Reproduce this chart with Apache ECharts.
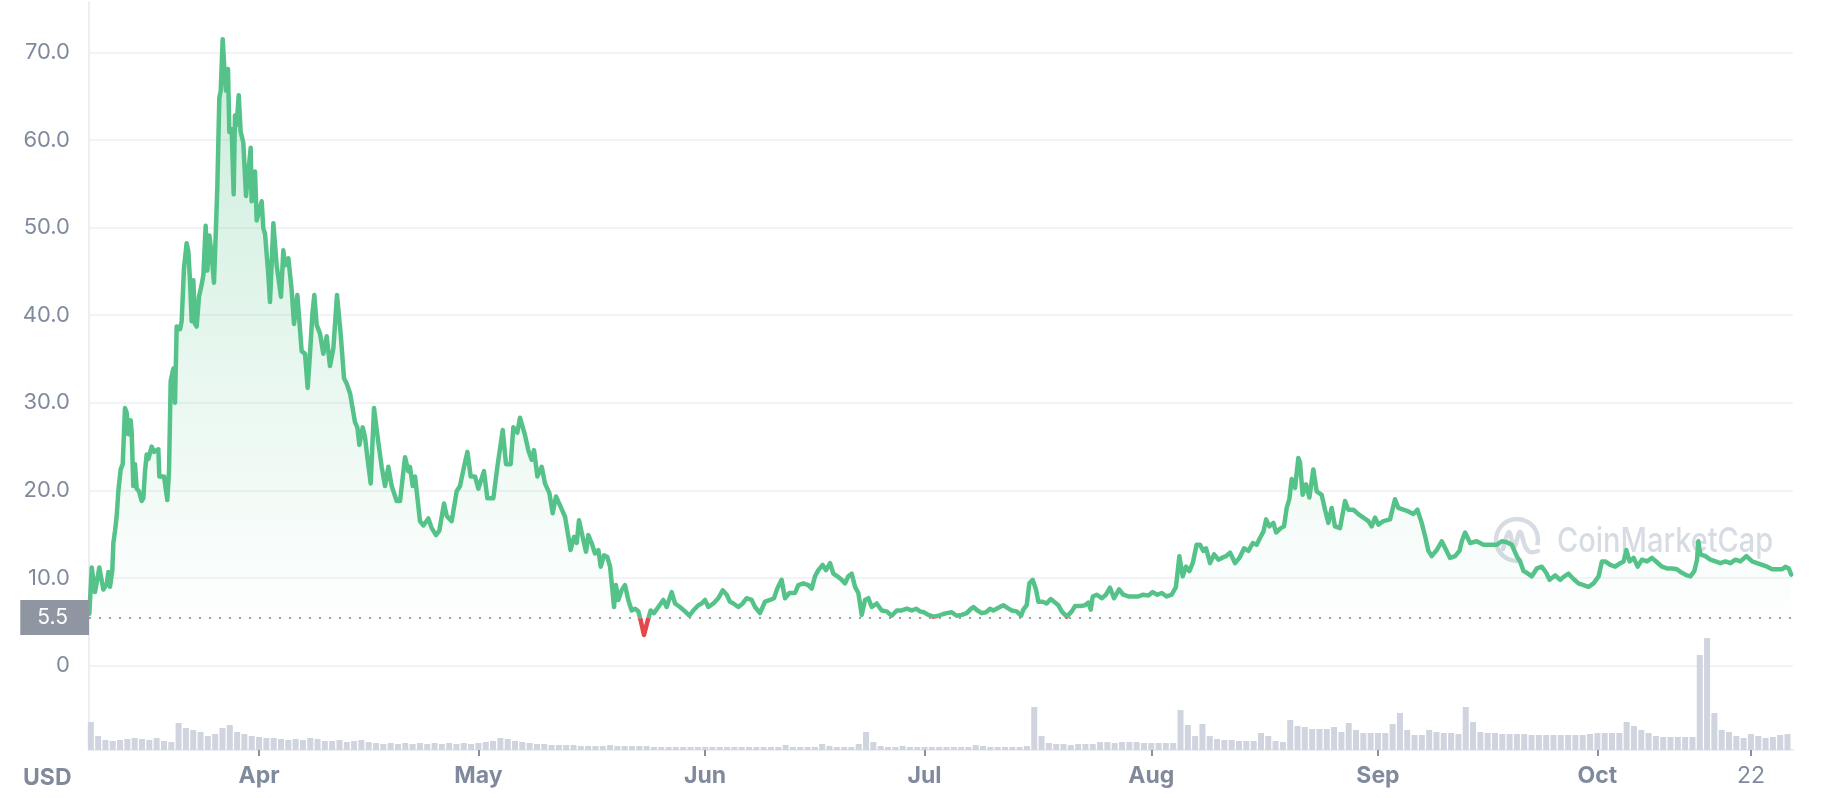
<!DOCTYPE html>
<html>
<head>
<meta charset="utf-8">
<script src="https://cdn.jsdelivr.net/npm/echarts@6/dist/echarts.min.js"></script>
<style>
html,body{margin:0;padding:0;background:#ffffff;}
#chart{width:1830px;height:798px;}
</style>
</head>
<body>
<div id="chart"></div>
<script>
// Day offsets are counted from this date (day 0 = 2021-03-08 00:00)
const startDate = '2021-03-08';
const xTickDays = [24, 54, 85, 115, 146, 177, 207, 228];
const xTickLabels = ['Apr', 'May', 'Jun', 'Jul', 'Aug', 'Sep', 'Oct', '22'];
const yTickValues = [0, 10, 20, 30, 40, 50, 60, 70];
const baselinePrice = 5.5;
const currencyLabel = 'USD';
const watermarkText = 'CoinMarketCap';

// [day offset, price USD]
const pricePoints = [
  [0.8,5.9],[1.12,11.2],[1.57,8.4],[2.16,11.2],[2.71,8.7],[3.17,9.3],[3.4,10.7],[3.62,9.0],[3.94,10.9],[4.08,14],[4.31,15.4],[4.54,17.1],[4.76,19.9],[5.08,22.4],[5.36,23],[5.67,29.4],[5.9,28.9],[6.13,26.4],[6.45,28],[6.59,26.6],[6.81,20.5],[7.04,23],[7.27,20.2],[7.59,19.9],[7.95,18.8],[8.18,19.1],[8.41,22.2],[8.64,24.1],[8.87,23.6],[9.32,25],[9.64,24.4],[10.23,24.7],[10.37,21.6],[11.01,21.6],[11.46,18.9],[11.69,22.2],[11.92,32.5],[12.28,33.9],[12.51,30],[12.74,38.7],[13.2,38.4],[13.42,39.3],[13.74,45.4],[14.1,48.2],[14.33,47.3],[14.56,44],[14.79,39.3],[15.02,44],[15.25,39],[15.47,38.7],[15.79,42.1],[16.16,43.5],[16.39,44.6],[16.7,50.2],[16.93,45.1],[17.21,49.1],[17.52,46.9],[17.84,43.7],[18.12,50.2],[18.3,54.7],[18.57,64.8],[18.76,65.6],[19.03,71.5],[19.26,68.1],[19.49,65.6],[19.76,68.1],[19.94,60.9],[20.26,61.2],[20.53,53.8],[20.71,62.8],[20.94,61.7],[21.22,65.1],[21.49,60.9],[21.85,59.7],[22.22,53.6],[22.86,59.1],[22.99,53],[23.45,56.4],[23.68,50.8],[24.36,53],[24.59,49.9],[24.82,49.3],[25.27,44.6],[25.5,41.5],[25.96,50.5],[26.41,45.7],[27.0,42.1],[27.32,47.4],[27.55,45.7],[28.01,46.5],[28.46,42.9],[28.78,39],[29.24,42.3],[29.83,35.9],[30.29,35.6],[30.65,31.7],[30.97,35.6],[31.29,40.1],[31.56,42.3],[31.88,38.9],[32.34,37.9],[32.79,35.6],[33.25,37.6],[33.7,34.2],[34.16,36.2],[34.66,42.3],[35.16,37.9],[35.62,32.8],[35.98,32.2],[36.44,31.1],[37.12,27.8],[37.44,27.2],[37.72,25.2],[38.17,27.2],[38.49,26.1],[38.81,23.8],[39.27,20.8],[39.72,29.4],[40.31,25.5],[40.77,22.7],[41.23,20.5],[41.68,22.7],[42.14,20.5],[42.82,18.8],[43.28,18.8],[43.96,23.8],[44.42,22.2],[44.64,22.7],[45.01,20.5],[45.33,21.6],[46.01,16.5],[46.47,16],[47.15,16.8],[47.61,15.7],[48.2,14.9],[48.65,15.4],[49.29,18.5],[49.66,17.1],[50.34,16.5],[51.02,19.9],[51.48,20.5],[52.03,22.7],[52.49,24.4],[52.94,21.6],[53.53,21.6],[53.99,20.2],[54.76,22.2],[55.22,19.1],[56.04,19.1],[56.59,22.7],[57.32,26.9],[57.77,23],[58.41,23],[58.77,27.2],[59.32,26.6],[59.68,28.3],
  [59.9,28.4],[60.37,26.3],[60.82,24.6],[61.28,23.5],[61.6,24.6],[62.06,21.6],[62.65,22.7],[63.1,20.8],[63.7,19.7],[64.15,17.4],[64.6,19.3],[65.16,18.3],[65.84,17],[66.3,14.7],[66.6,13.2],[67.07,14.7],[67.44,14],[67.75,16.6],[68.25,14.7],[68.71,13],[69.03,14.9],[69.48,14],[69.94,12.8],[70.4,13.2],[70.72,11.3],[71.17,12.6],[71.63,12.4],[72.0,11.3],[72.36,8.3],[72.54,6.7],[72.8,9.2],[73.13,7.5],[73.58,8.6],[74.04,9.2],[74.49,7.5],[74.95,6.3],[75.41,6.5],[75.86,6.2],[76.18,5.2],[76.64,3.5],[77.1,5.0],[77.55,6.3],[78.0,6.0],[78.6,6.7],[79.28,7.5],[79.74,6.7],[80.42,8.4],[80.88,7.1],[81.56,6.7],[82.25,6.2],[82.84,5.7],[83.38,6.3],[84.07,6.9],[84.52,7.1],[84.98,7.5],[85.44,6.7],[86.12,7.1],[86.8,7.7],[87.4,8.6],[87.95,8.1],[88.4,7.3],[88.86,7.1],[89.54,6.7],[90.13,7.1],[90.68,7.7],[91.36,7.5],[91.82,6.7],[92.5,6.0],[93.18,7.3],[93.87,7.5],[94.41,7.7],[94.87,8.8],[95.46,9.8],[95.92,7.7],[96.51,8.3],[97.29,8.3],[97.74,9.2],[98.43,9.4],[99.11,9.2],[99.57,8.8],[100.02,10.2],[100.48,10.9],[101.07,11.5],[101.53,10.9],[102.08,11.7],[102.53,10.5],[103.08,10.2],[103.67,9.8],[104.13,9.4],[104.58,10.2],[105.04,10.5],[105.5,9.0],[105.95,8.3],[106.41,5.8],[106.86,7.5],[107.32,7.7],[107.78,6.7],[108.46,7.1],[109.14,6.3],[109.83,6.2],[110.51,5.7],[111.2,6.3],[111.88,6.3],[112.57,6.5],[113.25,6.3],[113.84,6.5],
  [114.38,6.2],[114.9,6.1],[115.52,5.8],[116.2,5.6],[116.89,5.7],[117.57,5.9],[118.03,6.0],[118.71,6.1],[119.4,5.7],[120.08,5.8],[120.77,6.0],[121.22,6.4],[121.68,6.7],[122.23,6.3],[122.81,6.0],[123.41,6.1],[123.96,6.5],[124.41,6.3],[125.1,6.6],[125.77,6.9],[126.33,6.6],[126.92,6.3],[127.6,6.2],[128.2,5.7],[128.51,6.4],[128.97,6.9],[129.33,9.4],[129.79,9.8],[130.24,8.7],[130.56,7.3],[131.15,7.3],[131.7,7.1],[132.25,7.6],[132.84,7.2],[133.3,6.9],[133.76,6.2],[134.44,5.6],[135.13,6.2],[135.57,6.8],[136.26,6.8],[136.94,6.9],[137.4,7.2],[137.72,6.4],[138.0,7.9],[138.54,8.1],[139.23,7.7],[139.81,8.1],[140.36,8.9],[140.91,7.7],[141.6,8.7],[142.18,8.1],[142.87,7.9],[143.55,7.9],[144.24,7.9],[144.92,8.1],[145.6,8.0],[146.2,8.4],[146.83,8.1],[147.43,8.3],[148.1,7.9],[148.79,8.1],[149.38,9.0],[149.84,12.5],[150.3,10.2],[150.75,11.3],[151.21,10.8],[151.67,11.7],[152.2,13.8],[152.67,13.8],[153.12,13.1],[153.49,13.4],[154.04,11.7],[154.59,12.7],[155.18,12.1],[155.64,12.3],[156.23,12.5],[156.78,12.9],[157.46,11.7],[158.05,12.3],[158.69,13.4],[159.29,13.1],[159.88,14.0],[160.42,13.8],[160.88,14.6],[161.34,15.3],[161.7,16.7],[162.15,15.9],[162.7,16.3],[163.07,15.2],[163.71,15.7],[164.15,15.9],[164.52,18.0],[164.88,19.0],[165.2,21.3],[165.66,20.3],[166.11,23.7],[166.34,23.2],[166.7,19.5],[167.16,20.7],[167.62,19.2],[168.16,22.4],[168.62,19.9],[169.3,19.5],[169.76,17.8],[170.22,16.3],[170.67,18.0],[171.12,15.9],[171.81,15.7],
  [172.5,18.8],[172.95,17.8],[173.63,17.8],[174.32,17.3],[175.0,16.9],[175.69,16.5],[176.14,15.9],[176.6,16.9],[177.05,16.1],[177.74,16.5],[178.65,16.7],[179.33,19.0],[179.79,18.0],[180.47,17.8],[181.16,17.6],[181.84,17.3],[182.39,17.8],[182.98,16.3],[183.44,14.8],[183.9,13.1],[184.35,12.5],[185.04,13.2],[185.72,14.2],[186.32,13.2],[186.86,12.3],[187.55,12.5],[188.14,13.1],[188.46,14.2],[188.91,15.2],[189.6,14.0],[190.51,14.2],[191.42,13.8],[192.33,13.8],[193.24,13.8],[193.93,14.2],[194.61,14.1],[195.3,13.8],[195.98,12.5],[196.44,11.9],[196.9,10.8],[197.35,10.6],[198.04,10.2],[198.72,11.1],[199.41,11.3],[200.0,10.6],[200.46,9.8],[201.23,10.3],[201.92,9.8],[202.46,10.2],[203.05,10.5],[203.74,9.9],[204.42,9.4],[205.11,9.2],[205.79,9.0],[206.48,9.4],[207.17,10.2],[207.62,11.9],[208.08,11.9],[208.76,11.5],[209.45,11.3],[210.13,11.7],[210.59,11.9],[210.96,13.2],[211.41,11.9],[211.96,12.3],[212.51,11.3],[213.1,12.1],[213.78,11.9],[214.47,12.3],[215.15,11.8],[215.84,11.3],[216.52,11.1],[217.2,11.1],[217.89,11.0],[218.57,10.6],[219.26,10.3],[219.72,10.2],[220.26,10.8],[220.63,12.1],[220.81,14.2],[221.08,12.7],[221.77,12.5],[222.45,12.1],[223.14,11.9],[223.82,11.7],[224.51,11.9],[225.19,11.7],[225.88,12.1],[226.56,11.9],[227.38,12.5],[228.16,11.9],[228.84,11.7],[229.53,11.5],[230.21,11.3],[230.9,11.0],[231.58,11.0],[232.27,11.0],[232.72,11.3],[233.18,11.1],[233.5,10.4]
];

// daily volume (relative units), day offsets 1..233
const volumeDays = [];
const volumes = [
  28,14,10,9,10,11,12,11,10,12,9,8,27,22,20,18,14,16,22,25,
  18,16,14,13,12,12,11,10,11,10,12,11,9,9,10,8,9,10,8,7,
  6,7,6,7,6,7,6,7,6,7,6,7,6,7,8,9,12,11,9,8,
  7,6,6,5,5,5,5,4,4,4,4,5,4,4,4,4,4,3,3,3,
  3,3,3,3,3,3,3,3,3,3,3,3,3,3,3,5,3,3,3,3,
  6,4,3,3,3,6,18,8,4,3,3,4,3,3,3,3,3,3,3,3,
  3,5,4,3,3,3,3,3,4,43,14,7,6,6,5,6,6,6,8,8,
  7,8,8,8,7,7,7,7,7,40,25,14,26,14,11,10,10,9,9,9,
  17,14,9,8,30,24,23,21,21,21,23,18,27,20,17,17,17,17,26,37,
  20,15,15,20,18,17,17,16,43,28,18,17,17,16,16,16,16,15,15,15,
  15,15,15,15,15,16,17,17,17,17,28,24,20,17,14,13,13,13,13,13,
  95,112,37,20,18,14,12,16,14,12,13,15,16
];
for (let i = 0; i < volumes.length; i++) volumeDays.push(i + 1);

const GRAY = '#808a9d';
const FONT = 'Inter, "Noto Sans", sans-serif';

const chart = echarts.init(document.getElementById('chart'), null, {renderer: 'canvas'});

const xMin = 0.75, xMax = 233.75;

const option = {
  animation: false,
  backgroundColor: '#ffffff',
  textStyle: {fontFamily: FONT},
  grid: [
    {left: 89, right: 37, top: 52.3, height: 613.4},
    {left: 89, right: 37, top: 638, height: 112},
    {left: 89, right: 37, top: 2, height: 748}
  ],
  xAxis: [
    {gridIndex: 0, type: 'value', min: xMin, max: xMax, show: false},
    {
      gridIndex: 1, type: 'value', min: xMin, max: xMax,
      axisLine: {show: true, onZero: false, lineStyle: {color: '#eceef2', width: 2}},
      axisTick: {show: true, customValues: xTickDays, length: 6, lineStyle: {color: '#8a909c', width: 2}},
      axisLabel: {
        customValues: xTickDays,
        margin: 15,
        formatter: function (v) {
          const i = xTickDays.indexOf(v);
          const s = i >= 0 ? xTickLabels[i] : '';
          return /^\d+$/.test(s) ? '{d|' + s + '}' : '{m|' + s + '}';
        },
        rich: {
          m: {fontFamily: FONT, fontSize: 23, fontWeight: 700, color: GRAY},
          d: {fontFamily: FONT, fontSize: 23, fontWeight: 400, color: GRAY}
        }
      },
      splitLine: {show: false}
    },
    {gridIndex: 2, type: 'value', min: xMin, max: xMax, show: false}
  ],
  yAxis: [
    {
      gridIndex: 0, type: 'value', min: yTickValues[0], max: yTickValues[yTickValues.length - 1], interval: 10,
      axisLine: {show: false}, axisTick: {show: false},
      axisLabel: {color: GRAY, fontSize: 22, margin: 19, fontFamily: FONT,
        formatter: function (v) { return v === 0 ? '0' : v.toFixed(1); }},
      splitLine: {show: true, lineStyle: {color: '#eceff3', width: 1.5}}
    },
    {gridIndex: 1, type: 'value', min: 0, max: 112, show: false},
    {
      gridIndex: 2, type: 'value', min: 0, max: 1,
      axisLine: {show: true, onZero: false, lineStyle: {color: '#eceef2', width: 2}},
      axisTick: {show: false}, axisLabel: {show: false}, splitLine: {show: false}
    }
  ],
  visualMap: {
    type: 'piecewise', show: false, seriesIndex: 0, dimension: 1,
    pieces: [
      {gt: -1000, lt: baselinePrice, color: '#e5474b'},
      {gte: baselinePrice, lte: 1000, color: '#55c389'}
    ],
    outOfRange: {color: '#55c389'}
  },
  series: [
    {
      type: 'line', xAxisIndex: 0, yAxisIndex: 0, z: 4,
      data: pricePoints,
      showSymbol: false, symbol: 'none', clip: false, smooth: false,
      lineStyle: {width: 4.5, join: 'round', cap: 'round'},
      areaStyle: {
        origin: baselinePrice, opacity: 1,
        color: new echarts.graphic.LinearGradient(0, 0, 0, 1, [
          {offset: 0, color: 'rgba(85,195,137,0.30)'},
          {offset: 1, color: 'rgba(85,195,137,0.0)'}
        ])
      },
      markLine: {
        silent: true, symbol: 'none', animation: false,
        data: [{yAxis: baselinePrice}],
        lineStyle: {type: [2, 8], color: '#9aa0ab', width: 2},
        label: {
          position: 'start', distance: 0,
          formatter: String(baselinePrice),
          color: '#ffffff', fontSize: 21, fontFamily: FONT,
          backgroundColor: '#8f95a1', padding: [7, 21, 7, 17]
        }
      }
    },
    {
      type: 'bar', xAxisIndex: 1, yAxisIndex: 1, z: 2,
      data: volumeDays.map(function (d, i) { return [d, volumes[i]]; }),
      barWidth: 6,
      itemStyle: {color: '#cfd4df'}
    }
  ],
  graphic: [
    {
      type: 'arc', z: 1, silent: true,
      shape: {cx: 1517, cy: 540, r: 21, startAngle: Math.PI * 0.42, endAngle: Math.PI * 2.08, clockwise: true},
      style: {stroke: '#d7dbe3', lineWidth: 4.5, fill: null}
    },
    {
      type: 'polyline', z: 1, silent: true,
      shape: {points: [[1503, 549], [1509, 532], [1514, 547], [1520, 532], [1525, 546], [1530, 552], [1538, 551]], smooth: 0.4},
      style: {stroke: '#d7dbe3', lineWidth: 4.5, fill: null, lineCap: 'round', lineJoin: 'round'}
    },
    {
      type: 'text', z: 1, silent: true,
      x: 1557, y: 542, scaleY: 1.18, originX: 0, originY: 0,
      style: {x: 0, y: 0, text: watermarkText, fill: '#d7dbe3', fontSize: 29, fontWeight: 500, fontFamily: FONT, verticalAlign: 'middle'}
    },
    {
      type: 'text', z: 5, silent: true,
      style: {x: 23, y: 778, text: currencyLabel, fill: GRAY, fontSize: 23, fontWeight: 700, fontFamily: FONT, verticalAlign: 'middle'}
    }
  ]
};
chart.setOption(option);
</script>
</body>
</html>
